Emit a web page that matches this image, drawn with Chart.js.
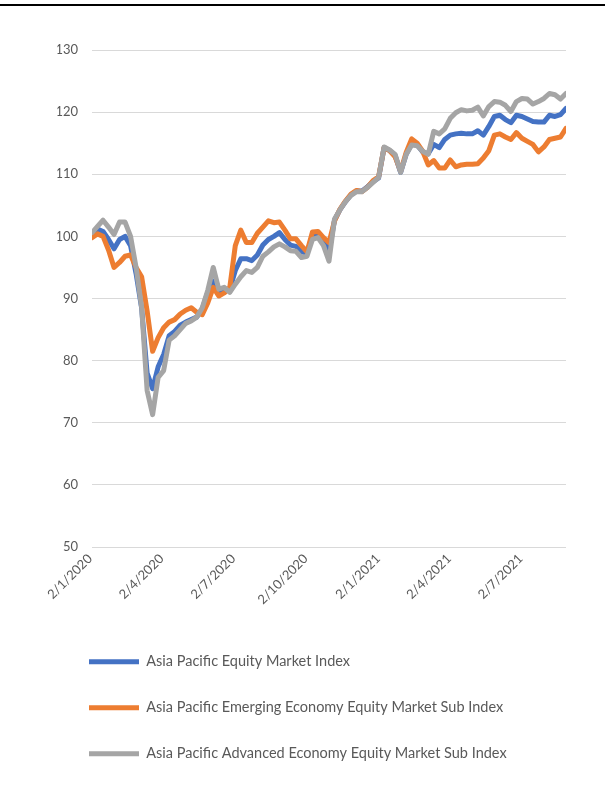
<!DOCTYPE html>
<html><head><meta charset="utf-8">
<script src="https://cdn.jsdelivr.net/npm/chart.js@4.4.1/dist/chart.umd.min.js"></script>
<style>
html,body{margin:0;padding:0;background:#fff;}
#wrap{position:relative;width:605px;height:800px;overflow:hidden;}
#topline{position:absolute;left:0;top:4px;width:605px;height:2px;background:#000;}
canvas{position:absolute;left:0;top:0;}
</style></head><body>
<div id="wrap"><canvas id="c" width="605" height="800"></canvas><div id="topline"></div></div>
<script>
// Weekly observations starting 2 Jan 2020
const startDate = '2020-01-02';
const weekCount = 87;
const tickLabels = ['2/1/2020','2/4/2020','2/7/2020','2/10/2020','2/1/2021','2/4/2021','2/7/2021'];
const seriesNames = [
  'Asia Pacific Equity Market Index',
  'Asia Pacific Emerging Economy Equity Market Sub Index',
  'Asia Pacific Advanced Economy Equity Market Sub Index'
];
const apIndex = [
  100.2,101.2,100.8,99.5,98.0,99.5,100.0,98.5,94.0,88.5,
  78.0,75.5,79.0,81.0,84.0,84.7,85.7,86.2,86.6,87.0,
  88.3,91.0,92.8,91.0,91.5,91.5,94.5,96.4,96.4,96.1,
  97.0,98.6,99.5,100.0,100.6,99.5,98.6,98.4,97.5,97.3,
  100.2,100.3,99.2,97.5,102.6,104.3,105.6,106.7,107.3,107.3,
  108.0,108.8,109.4,114.3,113.8,113.0,110.3,113.2,114.9,114.7,
  113.6,113.3,114.8,114.3,115.6,116.3,116.5,116.6,116.5,116.5,
  117.0,116.3,117.7,119.3,119.5,118.8,118.3,119.5,119.3,118.9,
  118.5,118.4,118.4,119.5,119.3,119.6,120.6
];
const apEmerging = [
  99.8,100.4,100.0,97.8,95.0,95.8,96.8,97.0,95.0,93.5,
  88.0,81.5,83.7,85.3,86.2,86.6,87.5,88.1,88.5,87.8,
  87.4,89.3,91.8,90.4,90.9,91.8,98.5,101.0,99.0,99.0,
  100.5,101.5,102.5,102.2,102.3,101.0,99.6,99.6,98.5,97.5,
  100.7,100.8,99.8,99.0,102.5,104.4,105.7,106.8,107.4,107.2,
  107.9,109.0,109.6,114.3,113.8,112.8,110.5,113.5,115.7,115.0,
  113.7,111.5,112.2,111.0,111.0,112.3,111.2,111.5,111.6,111.6,
  111.7,112.6,113.8,116.3,116.5,116.0,115.6,116.7,115.8,115.3,
  114.8,113.6,114.4,115.6,115.8,116.0,117.4
];
const apAdvanced = [
  100.6,101.6,102.6,101.5,100.3,102.3,102.3,100.0,95.0,88.6,
  75.2,71.3,77.3,78.4,83.3,84.0,85.0,86.0,86.4,87.0,
  88.5,91.3,95.0,91.5,91.8,91.0,92.3,93.5,94.5,94.2,
  95.0,96.8,97.5,98.3,98.8,98.3,97.7,97.6,96.6,96.8,
  99.5,99.8,98.5,96.0,102.8,104.3,105.6,106.6,107.2,107.2,
  107.9,108.7,109.5,114.4,113.9,113.2,110.3,113.2,114.7,114.6,
  113.7,113.2,116.9,116.5,117.3,119.0,119.9,120.4,120.2,120.3,
  120.8,119.4,120.9,121.7,121.6,121.1,120.1,121.7,122.2,122.1,
  121.3,121.7,122.2,123.0,122.8,122.1,123.0
];
const seriesColors = ['#4472C4','#ED7D31','#A5A5A5'];

const DAY = 86400000;
const t0 = Date.parse(startDate + 'T00:00:00Z');
const dayOffsets = Array.from({length: weekCount}, (_, i) => i * 7);
function labelToDay(s){ const [d,m,y] = s.split('/').map(Number); return Math.round((Date.UTC(y,m-1,d) - t0)/DAY); }
const tickDays = tickLabels.map(labelToDay);
const toPoints = arr => arr.map((v,i) => ({x: dayOffsets[i], y: v}));

const fontFamily = 'Lato, "Open Sans", sans-serif';
const axisFont = {family: fontFamily, size: 13};
const legendFont = {family: fontFamily, size: 14.5};
const textColor = '#595959';
const seriesValues = [apIndex, apEmerging, apAdvanced];

new Chart(document.getElementById('c'), {
  type: 'line',
  data: {
    datasets: seriesValues.map((vals, i) => ({
      label: seriesNames[i],
      data: toPoints(vals),
      borderColor: seriesColors[i],
      backgroundColor: seriesColors[i],
      borderWidth: 5,
      pointRadius: 0,
      tension: 0,
      borderJoinStyle: 'round',
      borderCapStyle: 'round',
      pointStyle: 'line',
      order: 3 - i
    }))
  },
  options: {
    responsive: false,
    animation: false,
    layout: {padding: {left: 57.5, right: 39, top: 50, bottom: 29}},
    plugins: {
      tooltip: {enabled: false},
      legend: {
        position: 'bottom',
        align: 'start',
        labels: {
          font: legendFont, color: textColor,
          usePointStyle: true, pointStyleWidth: 50, boxHeight: 5,
          padding: 31.5,
          sort: (a, b) => a.datasetIndex - b.datasetIndex
        }
      }
    },
    scales: {
      x: {
        type: 'linear', min: 0, max: dayOffsets[dayOffsets.length - 1],
        grid: {display: false}, border: {display: false},
        afterBuildTicks: s => { s.ticks = tickDays.map(v => ({value: v})); },
        ticks: {
          autoSkip: false, minRotation: 45, maxRotation: 45, padding: -4, labelOffset: -2,
          font: axisFont, color: textColor,
          callback: (v, i) => tickLabels[i]
        },
        afterFit: s => { s.height = 76; }
      },
      y: {
        min: 50, max: 130,
        ticks: {stepSize: 10, padding: 14, font: axisFont, color: textColor},
        grid: {color: '#D9D9D9', lineWidth: 1, drawTicks: false},
        border: {display: false},
        afterFit: s => { s.width = 34.5; }
      }
    }
  }
});
</script>
</body></html>
